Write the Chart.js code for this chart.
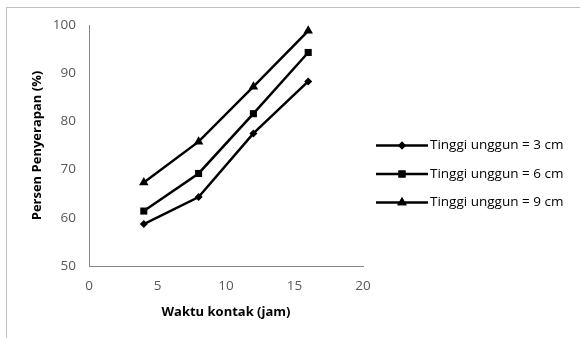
<!DOCTYPE html>
<html>
<head>
<meta charset="utf-8">
<script src="https://cdn.jsdelivr.net/npm/chart.js@4"></script>
<style>
  body { margin: 0; background: #fff; }
  #wrap { position: relative; width: 580px; height: 338px; }
  #frame { position: absolute; left: 6px; top: 7px; width: 600px; height: 400px;
           border-top: 1px solid #bfbfbf; border-left: 1px solid #bfbfbf; }
  canvas { position: absolute; left: 0; top: 0; }
</style>
</head>
<body>
<div id="wrap">
  <div id="frame"></div>
  <canvas id="myChart" width="580" height="338"></canvas>
</div>
<script>
    const waktu = [4, 8, 12, 16];
    const tinggi3 = [58.7, 64.3, 77.5, 88.3];
    const tinggi6 = [61.4, 69.2, 81.6, 94.3];
    const tinggi9 = [67.3, 75.8, 87.2, 98.8];
    const seriesLabels = ['Tinggi unggun = 3 cm', 'Tinggi unggun = 6 cm', 'Tinggi unggun = 9 cm'];
    const markers = ['rectRot', 'rect', 'triangle'];
    const markerSizes = [4, 5, 5.5];

    function toPoints(ys) {
        return waktu.map((x, i) => ({ x: x, y: ys[i] }));
    }

    const allSeries = [tinggi3, tinggi6, tinggi9];
    const datasets = allSeries.map((ys, i) => ({
        label: seriesLabels[i],
        data: toPoints(ys),
        borderColor: '#000',
        backgroundColor: '#000',
        borderWidth: 2.5,
        pointStyle: markers[i],
        pointRadius: markerSizes[i],
        pointBorderWidth: 0,
        showLine: true,
        fill: false
    }));

    // the built-in legend gets squeezed by the layout, so draw a simple one on the right
    const sideLegend = {
        id: 'sideLegend',
        afterDraw(c) {
            const g = c.ctx;
            const area = c.chartArea;
            const x0 = area.right + 13;
            const yMid = (area.top + area.bottom) / 2;
            g.save();
            c.data.datasets.forEach((d, i) => {
                const y = yMid + i * 28.5;
                g.strokeStyle = '#000';
                g.lineWidth = 2.5;
                g.beginPath();
                g.moveTo(x0, y);
                g.lineTo(x0 + 52, y);
                g.stroke();
                g.fillStyle = '#000';
                Chart.helpers.drawPoint(g, { pointStyle: d.pointStyle, radius: d.pointRadius, rotation: 0, borderWidth: 0 }, x0 + 26, y);
                g.fill();
                g.font = '13.5px "Open Sans"';
                g.textBaseline = 'middle';
                g.fillStyle = '#000';
                g.fillText(d.label, x0 + 54, y);
            });
            g.restore();
        }
    };

    const ctx = document.getElementById('myChart').getContext('2d');
    const chart = new Chart(ctx, {
        type: 'scatter',
        data: { datasets: datasets },
        plugins: [sideLegend],
        options: {
            responsive: false,
            animation: false,
            layout: { padding: { left: 25, top: 25, right: 217, bottom: 0 } },
            plugins: {
                tooltip: { enabled: false },
                legend: { display: false }
            },
            scales: {
                x: {
                    type: 'linear',
                    min: 0,
                    max: 20,
                    ticks: { stepSize: 5, color: '#595959', padding: 12, font: { family: 'Open Sans', size: 13.5 } },
                    grid: { display: false, drawTicks: false },
                    border: { color: '#868686' },
                    title: { display: true, text: 'Waktu kontak (jam)', color: '#000',
                             font: { family: 'Open Sans', size: 13, weight: 'bold' }, padding: { top: 4, bottom: 18 } },
                    afterFit: s => { s.height = 72; }
                },
                y: {
                    min: 50,
                    max: 100,
                    ticks: { stepSize: 10, color: '#595959', padding: 13, font: { family: 'Open Sans', size: 13.5 } },
                    grid: { display: false, drawTicks: false },
                    border: { color: '#868686' },
                    title: { display: true, text: 'Persen Penyerapan (%)', color: '#000',
                             font: { family: 'Open Sans', size: 13, weight: 'bold' }, padding: { bottom: 10 } },
                    afterFit: s => { s.width = 64; }
                }
            }
        }
    });
</script>
</body>
</html>
